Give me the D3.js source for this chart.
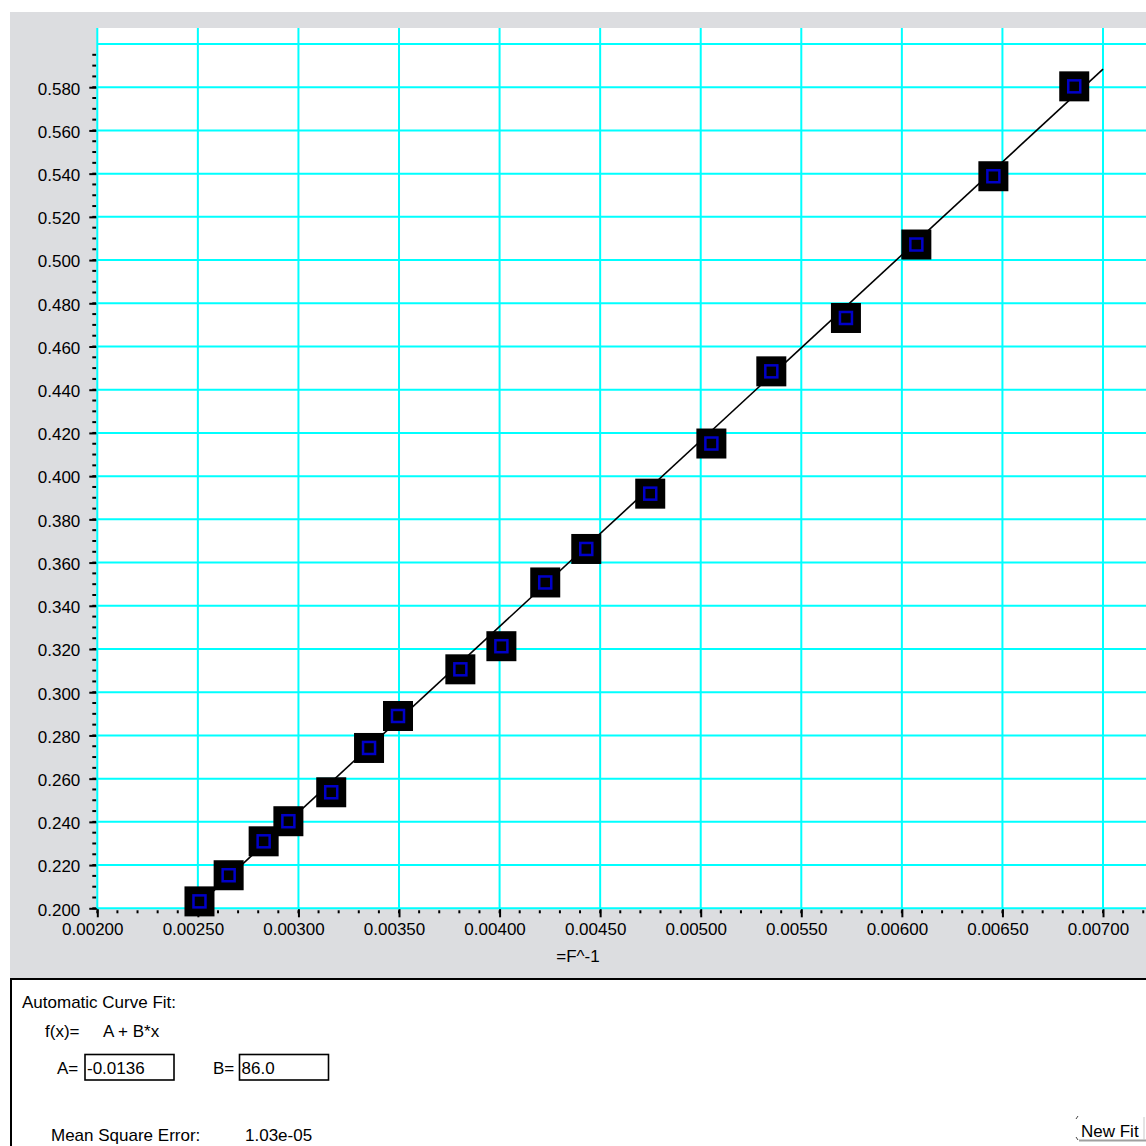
<!DOCTYPE html>
<html>
<head>
<meta charset="utf-8">
<script src="https://cdn.jsdelivr.net/npm/d3@7"></script>
<style>
  html, body { margin: 0; padding: 0; background: #fff; }
  #main { width: 1146px; height: 1146px; }
  text { font-family: "Liberation Sans", Arial, sans-serif; font-size: 17px; fill: #000; }
</style>
</head>
<body>
<div id="main"></div>
<script>
// data
const xValues = [0.002508, 0.002653, 0.002827, 0.002950, 0.003163, 0.003351, 0.003495, 0.003805, 0.004009,
                 0.004227, 0.004431, 0.004749, 0.005053, 0.005351, 0.005722, 0.006072, 0.006455, 0.006857];
const yValues = [0.2032, 0.2153, 0.2310, 0.2403, 0.2537, 0.2742, 0.2890, 0.3106, 0.3213,
                 0.3508, 0.3663, 0.3919, 0.4151, 0.4485, 0.4732, 0.5072, 0.5388, 0.5804];
const xTicks = [0.002, 0.0025, 0.003, 0.0035, 0.004, 0.0045, 0.005, 0.0055, 0.006, 0.0065, 0.007];
const yTicks = [0.20, 0.22, 0.24, 0.26, 0.28, 0.30, 0.32, 0.34, 0.36, 0.38, 0.40,
                0.42, 0.44, 0.46, 0.48, 0.50, 0.52, 0.54, 0.56, 0.58];
const yGrid = yTicks.concat([0.60]);
const fitA = -0.0136, fitB = 86.0;
const xTitle = "=F^-1";
const fitLines = ["Automatic Curve Fit:", "f(x)=", "A + B*x"];
const mseText = ["Mean Square Error:", "1.03e-05"];

const W = 1146, H = 1146;
const plotL = 97.3, plotT = 28, plotB = 908.3;

// plain hyphen instead of unicode minus
const fmt = f => v => d3.format(f)(v).replace("\u2212", "-");

const svg = d3.select("#main").append("svg")
    .attr("width", W).attr("height", H);

// grey chart background
svg.append("rect").attr("x", 10).attr("y", 12).attr("width", W).attr("height", 966)
    .attr("fill", "#dcdde0");

const x = d3.scaleLinear().domain([0.002, 0.007]).range([plotL, 1103]);
const y = d3.scaleLinear().domain([0.2, 0.6]).range([plotB, 44]);

// plot area
svg.append("rect").attr("x", plotL).attr("y", plotT)
    .attr("width", W - plotL + 5).attr("height", plotB - plotT).attr("fill", "#fff");

// minor ticks
const xMinor = d3.range(0, 53).map(i => 0.002 + i * 0.0001);
const yMinor = d3.range(0, 80).map(i => 0.2 + i * 0.005);

svg.append("g").selectAll("line").data(xMinor).join("line")
    .attr("x1", d => x(d)).attr("x2", d => x(d))
    .attr("y1", plotB + 2).attr("y2", plotB + 5)
    .attr("stroke", "#000").attr("stroke-width", 2);
svg.append("g").selectAll("line").data(yMinor).join("line")
    .attr("x1", plotL - 5).attr("x2", plotL - 1)
    .attr("y1", d => y(d)).attr("y2", d => y(d))
    .attr("stroke", "#000").attr("stroke-width", 2);

// major ticks + labels with d3 axes
const xAxis = svg.append("g").attr("transform", `translate(0,${plotB})`)
    .call(d3.axisBottom(x).tickValues(xTicks).tickFormat(fmt(".5f")).tickSize(9).tickPadding(6));
const yAxis = svg.append("g").attr("transform", `translate(${plotL},0)`)
    .call(d3.axisLeft(y).tickValues(yTicks).tickFormat(fmt(".3f")).tickSize(8).tickPadding(9));
[xAxis, yAxis].forEach(a => {
  a.select(".domain").remove();
  a.selectAll(".tick line").attr("stroke", "#000").attr("stroke-width", 2);
  a.selectAll(".tick text").attr("fill", "#000")
    .style("font-family", '"Liberation Sans", Arial, sans-serif').style("font-size", "17px");
});
xAxis.selectAll(".tick text").attr("dx", -5);
yAxis.selectAll(".tick text").attr("dy", "0.4em");

// grid
svg.append("g").selectAll("line").data(xTicks).join("line")
    .attr("x1", d => x(d)).attr("x2", d => x(d))
    .attr("y1", plotT).attr("y2", plotB)
    .attr("stroke", "#00ffff").attr("stroke-width", 2);
svg.append("g").selectAll("line").data(yGrid).join("line")
    .attr("x1", plotL).attr("x2", W + 5)
    .attr("y1", d => y(d)).attr("y2", d => y(d))
    .attr("stroke", "#00ffff").attr("stroke-width", 2);

// fitted line
const fitX = [d3.min(xValues), 0.007];
svg.append("path")
    .datum(fitX)
    .attr("d", d3.line().x(d => x(d)).y(d => y(fitA + fitB * d)))
    .attr("fill", "none").attr("stroke", "#000").attr("stroke-width", 1.6);

// markers
const pts = xValues.map((v, i) => ({ x: v, y: yValues[i] }));
const mk = svg.append("g").selectAll("g").data(pts).join("g")
    .attr("transform", d => `translate(${x(d.x)},${y(d.y)})`);
mk.append("rect").attr("x", -15).attr("y", -15).attr("width", 30).attr("height", 30).attr("fill", "#000");
mk.append("rect").attr("x", -6).attr("y", -6).attr("width", 12).attr("height", 12)
    .attr("fill", "none").attr("stroke", "#0000c8").attr("stroke-width", 2.5);

// axis title
svg.append("text").attr("x", 578).attr("y", 962).attr("text-anchor", "middle").text(xTitle);

// fit panel
svg.append("rect").attr("x", 11).attr("y", 979).attr("width", W).attr("height", 200)
    .attr("fill", "#fff").attr("stroke", "#000").attr("stroke-width", 2);

svg.append("text").attr("x", 22).attr("y", 1008).text(fitLines[0]);
svg.append("text").attr("x", 45).attr("y", 1037).text(fitLines[1]);
svg.append("text").attr("x", 103).attr("y", 1037).text(fitLines[2]);

const boxes = [
  { label: "A=", lx: 57, bx: 85, val: fmt(".4f")(fitA) },
  { label: "B=", lx: 213, bx: 239.5, val: fmt(".1f")(fitB) }
];
boxes.forEach(b => {
  svg.append("text").attr("x", b.lx).attr("y", 1074).text(b.label);
  svg.append("rect").attr("x", b.bx).attr("y", 1054.5).attr("width", 89).attr("height", 25.5)
      .attr("fill", "#fff").attr("stroke", "#000").attr("stroke-width", 1.6);
  svg.append("text").attr("x", b.bx + 2).attr("y", 1074).text(b.val);
});

svg.append("text").attr("x", 51).attr("y", 1141).text(mseText[0]);
svg.append("text").attr("x", 245).attr("y", 1141).text(mseText[1]);

// "New Fit" button remnant
svg.append("text").attr("x", 1081).attr("y", 1137).text("New Fit");
svg.append("line").attr("x1", 1079).attr("x2", 1146).attr("y1", 1140.5).attr("y2", 1140.5)
    .attr("stroke", "#a0a0a0").attr("stroke-width", 2);
svg.append("line").attr("x1", 1144).attr("x2", 1144).attr("y1", 1117).attr("y2", 1140)
    .attr("stroke", "#c8c8c8").attr("stroke-width", 1);
svg.append("path").attr("d", "M1076,1119 L1078,1116 M1076,1137 L1078,1140")
    .attr("stroke", "#444").attr("stroke-width", 1).attr("fill", "none");
</script>
</body>
</html>
